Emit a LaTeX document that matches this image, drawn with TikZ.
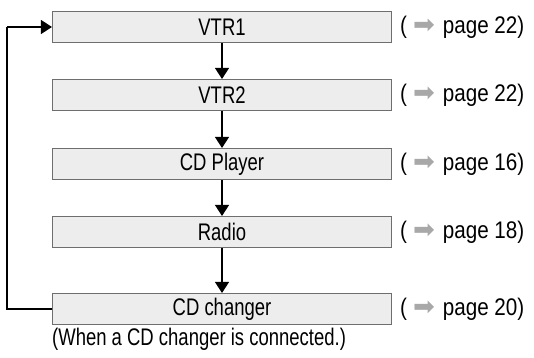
\documentclass[tikz,border=0pt]{standalone}
\usepackage{fontspec}
\setmainfont[FakeStretch=0.77]{Liberation Sans}
\newfontfamily\labfont[FakeStretch=0.86]{Liberation Sans}
\newfontfamily\symfont{DejaVu Sans}
\usetikzlibrary{arrows.meta}
\definecolor{boxfill}{HTML}{EDEDED}
\definecolor{boxline}{HTML}{6E6E6E}
\definecolor{arrgray}{HTML}{A8A8A8}
\tikzset{
  dev/.style={draw=boxline, line width=1.1pt, fill=boxfill, minimum width=339pt, minimum height=31pt, inner sep=0pt, font=\fontsize{24}{28}\selectfont},
  ref/.style={anchor=west, inner sep=0pt, font=\labfont\fontsize{24}{28}\selectfont},
  flow/.style={line width=1.1pt, -{Triangle[length=11pt,width=14pt]}},
  ret/.style={line width=1.1pt},
}
\newcommand{\pgref}[1]{(\hspace{6pt}{\color{arrgray}\symfont\fontsize{26}{28}\selectfont ➡}\hspace{8pt}page #1)}
\begin{document}
\begin{tikzpicture}[x=1pt,y=-1pt]
\useasboundingbox (0,0) rectangle (534,357);
\node[dev] (v1) at (222,27) {VTR1};
\node[dev] (v2) at (222,95) {VTR2};
\node[dev] (cd) at (222,164) {CD Player};
\node[dev] (ra) at (222,232) {Radio};
\node[dev] (ch) at (222,309) {CD changer};
\node[ref] (r1) at (400,27) {\pgref{22}};
\node[ref] (r2) at (400,95) {\pgref{22}};
\node[ref] (r3) at (400,164) {\pgref{16}};
\node[ref] (r4) at (400,232) {\pgref{18}};
\node[ref] (r5) at (400,309) {\pgref{20}};
\node[anchor=north west, inner sep=0pt, font=\fontsize{24}{28}\selectfont] (note) at (52,328) {(When a CD changer is connected.)};
\draw[flow] (v1) -- (v2);
\draw[flow] (v2) -- (cd);
\draw[flow] (cd) -- (ra);
\draw[flow] (ra) -- (ch);
\coordinate (lb) at (7,0 |- ch.west);
\draw[ret] (ch.west) -- (lb) -- (lb |- v1.west);
\draw[flow] (lb |- v1.west) -- (v1.west);
\end{tikzpicture}
\end{document}
